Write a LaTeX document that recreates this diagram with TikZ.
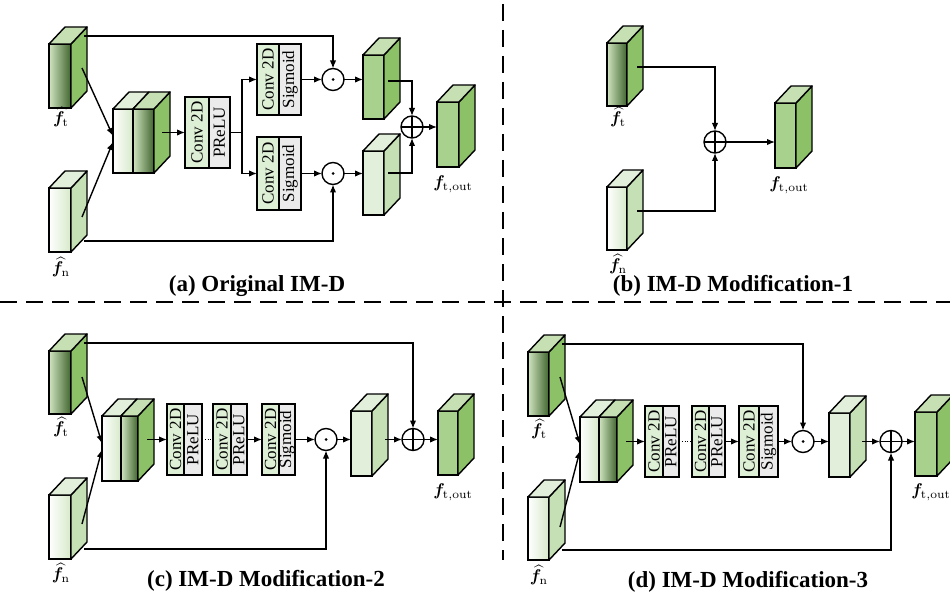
\RequirePackage{fix-cm}
\documentclass[tikz,border=0pt]{standalone}
\usepackage{amsmath,bm}
\usepackage{fontspec}
\newfontfamily\serifb{Liberation Serif}
\usetikzlibrary{arrows.meta,calc}
\definecolor{sideg}{HTML}{8CC168}
\definecolor{topg}{HTML}{C6E0B4}
\definecolor{midg}{HTML}{A9D18E}
\definecolor{ftl}{HTML}{D0E4C0}
\definecolor{ftr}{HTML}{40652E}
\definecolor{fnr}{HTML}{D6E9C9}
\definecolor{lsideg}{HTML}{C5E0B4}
\definecolor{ltopg}{HTML}{E2EFDA}
\definecolor{lfront}{HTML}{E2EFDA}
\definecolor{convg}{HTML}{DDEFD5}
\definecolor{actg}{HTML}{EBEBEB}
\newcommand\fhat[1]{\scalebox{1.7}{$\widehat{\boldsymbol f}_{\mathrm{#1}}$}}
\newcommand\fout{\scalebox{1.7}{$\boldsymbol f_{\mathrm{t,out}}$}}
\tikzset{
  conn/.style={line width=1.4pt, -{Latex[length=8pt,width=6.5pt]}},
  plainln/.style={line width=1.4pt},
  frontface/.style={draw, line width=1.4pt, inner sep=0pt, outer sep=0pt, anchor=north west},
  halfbox/.style={draw, line width=1.3pt, inner sep=0pt, outer sep=0pt, anchor=north west, font=\serifb\fontsize{17}{20}\selectfont},
  convh/.style={halfbox, fill=convg},
  acth/.style={halfbox, fill=actg},
  opbase/.style={circle, draw, line width=1.4pt, fill=white, minimum size=22pt, inner sep=0pt, outer sep=0pt},
  odot/.style={opbase, path picture={\fill[black] (path picture bounding box.center) circle[radius=1.5pt];}},
  oplus/.style={opbase, path picture={\draw[black, line width=1.4pt] (path picture bounding box.north) -- (path picture bounding box.south) (path picture bounding box.west) -- (path picture bounding box.east);}},
  lab/.style={inner sep=0pt},
  capt/.style={inner sep=0pt, font=\serifb\bfseries\fontsize{23}{27}\selectfont},
  sepline/.style={line width=2pt, dash pattern=on 17pt off 9pt}
}
% cuboid: name, x, y, w, h, front style, side colour, top colour
\newcommand\cub[8]{%
  \node[frontface, minimum width=#4pt, minimum height=#5pt, #6] (#1) at (#2,#3) {};
  \filldraw[line width=1.4pt, line join=round, fill=#7] (#1.north east) -- ++(16,-17) -- ++(0,#5) -- (#1.south east) -- cycle;
  \filldraw[line width=1.4pt, line join=round, fill=#8] (#1.north west) -- ++(16,-17) -- ++(#4,0) -- (#1.north east) -- cycle;
}
% concatenated cuboid: name, x, xdiv, xright, y, h
\newcommand\catcub[6]{%
  \node[frontface, minimum width={#3pt-#2pt}, minimum height=#6pt, left color=white, right color=fnr] (#1l) at (#2,#5) {};
  \node[frontface, minimum width={#4pt-#3pt}, minimum height=#6pt, left color=ftl, right color=ftr] (#1r) at (#3,#5) {};
  \filldraw[line width=1.4pt, line join=round, fill=sideg] (#1r.north east) -- ++(16,-17) -- ++(0,#6) -- (#1r.south east) -- cycle;
  \filldraw[line width=1.4pt, line join=round, fill=ltopg] (#1l.north west) -- ++(16,-17) -- ($(#1l.north east)+(16,-17)$) -- (#1l.north east) -- cycle;
  \filldraw[line width=1.4pt, line join=round, fill=topg] (#1r.north west) -- ++(16,-17) -- ($(#1r.north east)+(16,-17)$) -- (#1r.north east) -- cycle;
}
% conv box: name, x, xdiv, xright, ytop, ybot, second text
\newcommand\cbox[7]{%
  \node[convh, minimum width={#3pt-#2pt}, minimum height={#6pt-#5pt}] (#1c) at (#2,#5) {\rotatebox{90}{Conv 2D}};
  \node[acth, minimum width={#4pt-#3pt}, minimum height={#6pt-#5pt}] (#1a) at (#3,#5) {\rotatebox{90}{#7}};
}
\begin{document}
\begin{tikzpicture}[x=1pt,y=-1pt]
\useasboundingbox (0,0) rectangle (950,604);
\clip (0,0) rectangle (950,604);

% separators
\draw[sepline] (0,302) -- (950,302);
\draw[sepline] (503,4) -- (503,560);

%%%%%%%%%%%%%%%% (a)
\cub{a-ft}{49}{44}{22}{64}{left color=ftl, right color=ftr}{sideg}{topg}
\cub{a-fn}{49}{188}{22}{64}{left color=white, right color=fnr}{lsideg}{ltopg}
\node[lab] (a-ftlab) at (61,117) {\fhat{t}};
\node[lab] (a-fnlab) at (61,267) {\fhat{n}};
\catcub{a-cat}{113}{133}{154}{109}{64}
\coordinate (a-fts) at (82,68);
\coordinate (a-fns) at (82,217);
\draw[conn] (a-fts) -- ($(a-catl.west)+(0,-5)$);
\draw[conn] (a-fns) -- ($(a-catl.west)+(0,1)$);
\coordinate (a-cats) at (162,132.5);
\cbox{a-b1}{185}{209}{230}{97}{168}{PReLU}
\draw[conn] (a-cats) -- (a-b1c.west);
\coordinate (a-br) at (242,132.5);
\draw[plainln] (a-b1a.east) -- (a-br);
\cbox{a-b2}{257}{279}{301}{44}{115}{Sigmoid}
\cbox{a-b3}{257}{279}{301}{137}{210}{Sigmoid}
\draw[conn] (a-br) |- (a-b2c.west);
\draw[conn] (a-br) |- (a-b3c.west);
\node[odot] (a-m1) at (333,79.5) {};
\node[odot] (a-m2) at (333,173.5) {};
\draw[conn] (a-b2a.east) -- (a-m1.west);
\draw[conn] (a-b3a.east) -- (a-m2.west);
\coordinate (a-ftt) at (84,36);
\coordinate (a-fnb) at (84,241);
\draw[conn] (a-ftt) -| (a-m1.north);
\draw[conn] (a-fnb) -| (a-m2.south);
\cub{a-u}{363}{55}{21}{64}{fill=midg}{sideg}{topg}
\cub{a-l}{363}{151}{21}{64}{fill=lfront}{lsideg}{ltopg}
\draw[conn] (a-m1.east) -- (a-m1.east -| a-u.west);
\draw[conn] (a-m2.east) -- (a-m2.east -| a-l.west);
\node[oplus] (a-s) at (412,127) {};
\coordinate (a-us) at (388,81);
\coordinate (a-ls) at (388,173);
\draw[conn] (a-us) -| (a-s.north);
\draw[conn] (a-ls) -| (a-s.south);
\cub{a-o}{437}{102}{22}{65}{fill=midg}{sideg}{topg}
\draw[conn] (a-s.east) -- (a-s.east -| a-o.west);
\node[lab] (a-olab) at (453,184) {\fout};
\node[capt] (a-cap) at (257,286) {(a) Original IM-D};

%%%%%%%%%%%%%%%% (b)
\cub{b-ft}{607}{43}{20}{63}{left color=ftl, right color=ftr}{sideg}{topg}
\cub{b-fn}{607}{187}{20}{63}{left color=white, right color=fnr}{lsideg}{ltopg}
\node[lab] (b-ftlab) at (618,117) {\fhat{t}};
\node[lab] (b-fnlab) at (618,264) {\fhat{n}};
\node[oplus] (b-s) at (715,142) {};
\coordinate (b-fts) at (637,67);
\coordinate (b-fns) at (637,211);
\draw[conn] (b-fts) -| (b-s.north);
\draw[conn] (b-fns) -| (b-s.south);
\cub{b-o}{775}{103}{21}{65}{fill=midg}{sideg}{topg}
\draw[conn] (b-s.east) -- (b-s.east -| b-o.west);
\node[lab] (b-olab) at (789,185) {\fout};
\node[capt] (b-cap) at (733,286) {(b) IM-D Modification-1};

%%%%%%%%%%%%%%%% (c)
\cub{c-ft}{49}{351}{22}{63}{left color=ftl, right color=ftr}{sideg}{topg}
\cub{c-fn}{49}{495}{22}{64}{left color=white, right color=fnr}{lsideg}{ltopg}
\node[lab] (c-ftlab) at (61,427) {\fhat{t}};
\node[lab] (c-fnlab) at (61,573) {\fhat{n}};
\catcub{c-cat}{102}{121}{138}{416}{65}
\coordinate (c-fts) at (82,377);
\coordinate (c-fns) at (82,524);
\draw[conn] (c-fts) -- ($(c-catl.west)+(0,-5)$);
\draw[conn] (c-fns) -- ($(c-catl.west)+(0,1)$);
\coordinate (c-cats) at (147,439.5);
\cbox{c-b1}{167}{184}{202}{404}{475}{PReLU}
\draw[conn] (c-cats) -- (c-b1c.west);
\cbox{c-b2}{213}{231}{247}{404}{475}{PReLU}
\draw[line width=0.8pt, dotted] (c-b1a.east) -- (c-b2c.west);
\cbox{c-b3}{262}{279}{295}{404}{475}{Sigmoid}
\draw[conn] (c-b2a.east) -- (c-b3c.west);
\node[odot] (c-m) at (326,439.5) {};
\draw[conn] (c-b3a.east) -- (c-m.west);
\cub{c-u}{351}{411}{21}{65}{fill=lfront}{lsideg}{ltopg}
\draw[conn] (c-m.east) -- (c-m.east -| c-u.west);
\node[oplus] (c-s) at (413,439.5) {};
\coordinate (c-us) at (385,439.5);
\draw[conn] (c-us) -- (c-s.west);
\coordinate (c-ftt) at (84,343);
\coordinate (c-fnb) at (84,549);
\draw[conn] (c-ftt) -| (c-s.north);
\draw[conn] (c-fnb) -| (c-m.south);
\cub{c-o}{438}{411}{20}{64}{fill=midg}{sideg}{topg}
\draw[conn] (c-s.east) -- (c-s.east -| c-o.west);
\node[lab] (c-olab) at (453,492) {\fout};
\node[capt] (c-cap) at (266,581) {(c) IM-D Modification-2};

%%%%%%%%%%%%%%%% (d)
\cub{d-ft}{528}{352}{21}{64}{left color=ftl, right color=ftr}{sideg}{topg}
\cub{d-fn}{528}{497}{21}{63}{left color=white, right color=fnr}{lsideg}{ltopg}
\node[lab] (d-ftlab) at (539,429) {\fhat{t}};
\node[lab] (d-fnlab) at (539,575) {\fhat{n}};
\catcub{d-cat}{580}{599}{617}{417}{65}
\coordinate (d-fts) at (560,377);
\coordinate (d-fns) at (560,527);
\draw[conn] (d-fts) -- ($(d-catl.west)+(0,-5)$);
\draw[conn] (d-fns) -- ($(d-catl.west)+(0,1)$);
\coordinate (d-cats) at (626,441.5);
\cbox{d-b1}{645}{663}{679}{406}{477}{PReLU}
\draw[conn] (d-cats) -- (d-b1c.west);
\cbox{d-b2}{692}{709}{725}{406}{477}{PReLU}
\draw[line width=0.8pt, dotted] (d-b1a.east) -- (d-b2c.west);
\cbox{d-b3}{739}{759}{778}{406}{477}{Sigmoid}
\draw[conn] (d-b2a.east) -- (d-b3c.west);
\node[odot] (d-m) at (803,441.5) {};
\draw[conn] (d-b3a.east) -- (d-m.west);
\cub{d-u}{829}{413}{21}{64}{fill=lfront}{lsideg}{ltopg}
\draw[conn] (d-m.east) -- (d-m.east -| d-u.west);
\node[oplus] (d-s) at (891,441.5) {};
\coordinate (d-us) at (862,441.5);
\draw[conn] (d-us) -- (d-s.west);
\coordinate (d-ftt) at (562,344);
\coordinate (d-fnb) at (562,550);
\draw[conn] (d-ftt) -| (d-m.north);
\draw[conn] (d-fnb) -| (d-s.south);
\cub{d-o}{915}{412}{22}{64}{fill=midg}{sideg}{topg}
\draw[conn] (d-s.east) -- (d-s.east -| d-o.west);
\node[lab] (d-olab) at (931,492) {\fout};
\node[capt] (d-cap) at (748,582) {(d) IM-D Modification-3};
\end{tikzpicture}
\end{document}
